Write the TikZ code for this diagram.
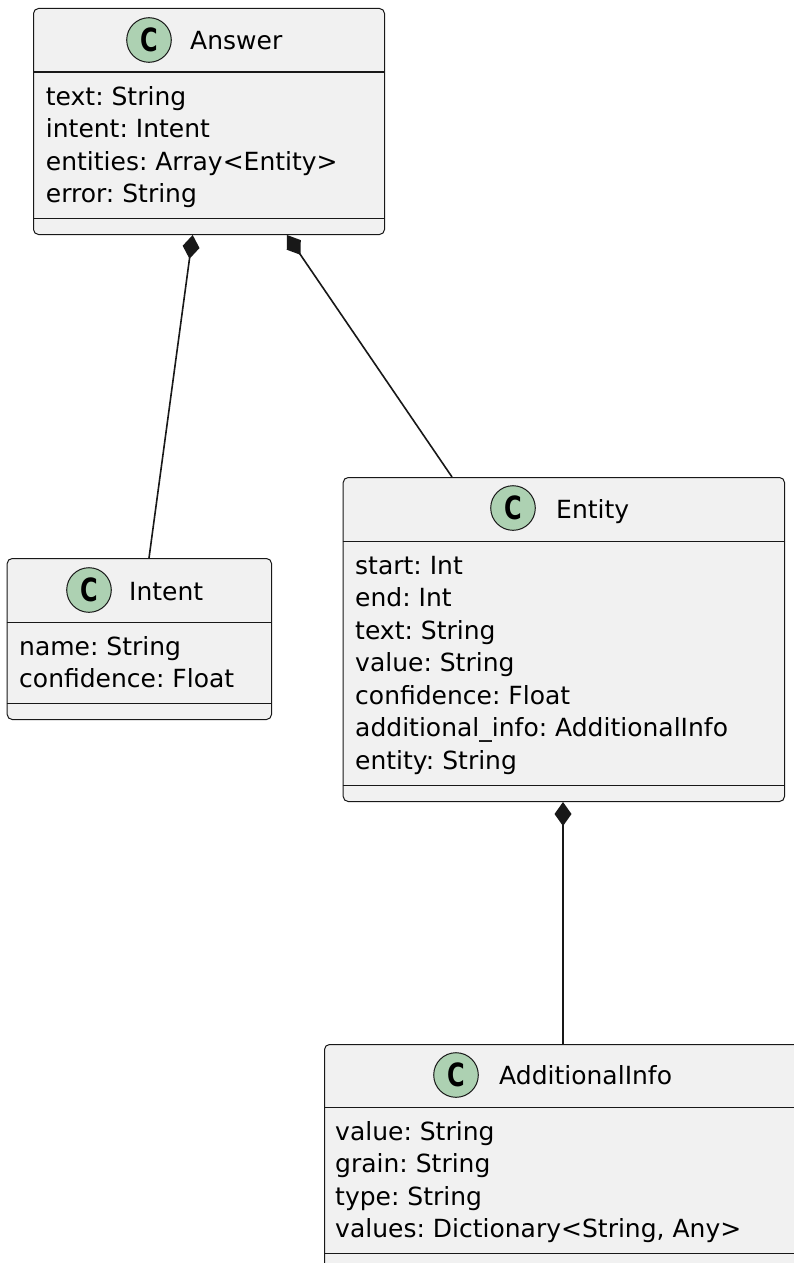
\documentclass[tikz,border=0pt]{standalone}
\usepackage{fontspec}
\setmainfont{DejaVu Sans}
\usetikzlibrary{arrows.meta}
\frenchspacing
\definecolor{boxfill}{HTML}{F1F1F1}
\definecolor{linec}{HTML}{181818}
\definecolor{cgreen}{HTML}{ADD1B2}
\newcommand\cglyph{\scalebox{0.75}[1]{\fontsize{32}{32}\selectfont\bfseries C}}
\tikzset{
  classbox/.style={draw=linec, fill=boxfill, rounded corners=5pt, line width=1pt, inner sep=0pt, anchor=north west},
  sepline/.style={draw=linec, line width=1pt},
  circ/.style={circle, draw=linec, fill=cgreen, line width=1pt, minimum size=44.6pt, inner sep=0pt},
  cletter/.style={inner sep=0pt, text=black},
  title/.style={anchor=base west, inner sep=0pt, font=\fontsize{25}{30}\selectfont},
  attr/.style={anchor=base west, inner sep=0pt, font=\fontsize{25}{32.5}\selectfont},
  comp/.style={draw=linec, line width=1.6pt, {Diamond[length=24pt,width=17pt]}-}
}
\begin{document}
\begin{tikzpicture}[x=1pt,y=-1pt]
\useasboundingbox (0,0) rectangle (794,1263);
\clip (0,0) rectangle (794,1263);
\fill[white] (0,0) rectangle (794,1263);

% Answer
\node[classbox, minimum width=351pt, minimum height=226pt] (answer) at (33,8) {};
\draw[sepline] (answer.west |- 0,72) -- (answer.east |- 0,72);
\draw[sepline] (answer.west |- 0,218) -- (answer.east |- 0,218);
\node[circ] (answer-c) at (149,40) {};
\node[cletter] (answer-cl) at (149,40) {\cglyph};
\node[title] (answer-t) at (190,50) {Answer};
\foreach \t [count=\i] in {text: String, intent: Intent, {entities: Array<Entity>}, error: String}
  \node[attr] (answer-a\i) at (45.7,{105+32.5*(\i-1)}) {\t};

% Intent
\node[classbox, minimum width=264.3pt, minimum height=161pt] (intent) at (6.7,558) {};
\draw[sepline] (intent.west |- 0,622) -- (intent.east |- 0,622);
\draw[sepline] (intent.west |- 0,703) -- (intent.east |- 0,703);
\node[circ] (intent-c) at (89,590) {};
\node[cletter] (intent-cl) at (89,590) {\cglyph};
\node[title] (intent-t) at (129,600) {Intent};
\foreach \t [count=\i] in {name: String, confidence: Float}
  \node[attr] (intent-a\i) at (19,{655+32.5*(\i-1)}) {\t};

% Entity
\node[classbox, minimum width=441.3pt, minimum height=324pt] (entity) at (342.7,477) {};
\draw[sepline] (entity.west |- 0,541) -- (entity.east |- 0,541);
\draw[sepline] (entity.west |- 0,785) -- (entity.east |- 0,785);
\node[circ] (entity-c) at (513,508) {};
\node[cletter] (entity-cl) at (513,508) {\cglyph};
\node[title] (entity-t) at (556,518) {Entity};
\foreach \t [count=\i] in {start: Int, end: Int, text: String, value: String, confidence: Float, additional\_info: AdditionalInfo, entity: String}
  \node[attr] (entity-a\i) at (355,{574+32.5*(\i-1)}) {\t};

% AdditionalInfo
\node[classbox, minimum width=500pt, minimum height=240pt] (addinfo) at (324,1044) {};
\draw[sepline] (addinfo.west |- 0,1107) -- (addinfo.east |- 0,1107);
\draw[sepline] (addinfo.west |- 0,1253) -- (addinfo.east |- 0,1253);
\node[circ] (addinfo-c) at (456,1075) {};
\node[cletter] (addinfo-cl) at (456,1075) {\cglyph};
\node[title] (addinfo-t) at (499,1084) {AdditionalInfo};
\foreach \t [count=\i] in {value: String, grain: String, type: String, {values: Dictionary<String, Any>}}
  \node[attr] (addinfo-a\i) at (335,{1140+32.5*(\i-1)}) {\t};

% Compositions
\draw[comp] ([xshift=159.7pt]answer.south west) -- ([xshift=142.3pt]intent.north west);
\draw[comp] ([xshift=254pt]answer.south west) -- ([xshift=109.3pt]entity.north west);
\draw[comp] ([xshift=220.3pt]entity.south west) -- ([xshift=239pt]addinfo.north west);
\end{tikzpicture}
\end{document}
